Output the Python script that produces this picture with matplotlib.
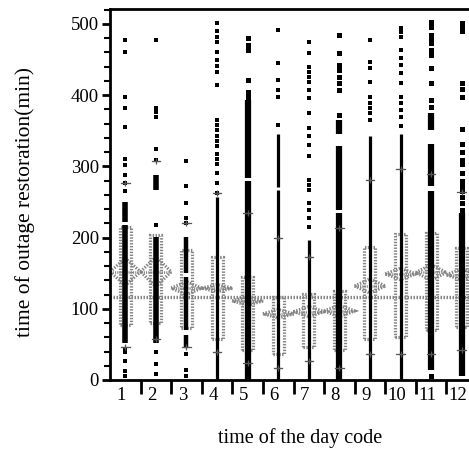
import numpy as np
import matplotlib.pyplot as plt
import matplotlib.transforms as mtransforms
from matplotlib.patches import Polygon, Rectangle

plt.rcParams['font.family'] = ['Liberation Serif', 'DejaVu Serif']

# time-of-day codes
codes = [1, 2, 3, 4, 5, 6, 7, 8, 9, 10, 11, 12]

# isolated observations (min) per code
pts = [
    [477, 461, 397, 382, 355, 311, 302, 288, 276, 265, 44, 40, 26, 12, 6],
    [477, 382, 376, 370, 325, 309, 218, 40, 23, 9],
    [307, 272, 248, 227, 220, 37, 14, 5],
    [501, 490, 482, 475, 461, 449, 441, 433, 414, 365, 358, 351, 342, 335,
     328, 318, 311, 304, 290, 276, 262],
    [480, 470, 463, 421, 405, 398],
    [492, 445, 421, 407, 398, 358],
    [475, 459, 440, 433, 426, 419, 407, 396, 375, 354, 342, 330, 314, 281,
     274, 267, 248, 239, 227, 215],
    [485, 459, 443, 436, 426, 417, 407, 372],
    [477, 447, 438, 419, 398, 389, 382, 375, 365],
    [494, 488, 482, 463, 452, 443, 431, 417, 398, 389, 379, 370, 356],
    [503, 496, 485, 478, 473, 463, 456, 438, 417, 393, 384, 5],
    [501, 495, 490, 417, 408, 398, 353, 332, 320, 309, 304, 290, 279, 272,
     265, 257, 248, 239],
]
# ranges where observations are packed together (min)
runs = [
    [(222, 250), (52, 218)],
    [(267, 288), (52, 201)],
    [(150, 201), (70, 145), (47, 63)],
    [(0, 257)],
    [(284, 393), (0, 279)],
    [(271, 346), (0, 267)],
    [(0, 197)],
    [(346, 365), (239, 328), (0, 234)],
    [(0, 342)],
    [(0, 346)],
    [(351, 375), (272, 332), (14, 265)],
    [(5, 234)],
]

means = [152, 152, 129, 129, 111, 93, 96, 97, 132, 149, 151, 148]
ci_half = [19, 21, 9, 5, 6, 6, 7, 8, 10, 8, 11, 8]
q25 = [77, 80, 73, 58, 42, 37, 47, 42, 57, 60, 70, 75]
q75 = [215, 204, 183, 173, 145, 117, 121, 125, 187, 205, 206, 186]
p10 = [47, 57, 47, 40, 24, 17, 27, 17, 37, 37, 37, 42]
p90 = [277, 308, 221, 262, 234, 199, 173, 213, 281, 297, 289, 264]
grand_mean = 117

col_lw = [4.0, 4.0, 3.2, 2.3, 4.5, 2.3, 2.3, 4.5, 2.3, 2.3, 4.5, 4.5]

gray = '#858585'
stip = (0, (0.45, 0.45))

fig = plt.figure(figsize=(4.69, 4.54), dpi=100)
ax = fig.add_axes([110 / 469, 1 - 380 / 454, 367 / 469, 371 / 454])

ax.axhline(grand_mean, color=gray, lw=2.4, ls=stip, zorder=2)

for i, c in enumerate(codes):
    # quantile box
    ax.add_patch(Rectangle((c - 0.18, q25[i]), 0.36, q75[i] - q25[i],
                           fill=False, ec=gray, lw=2.3, ls=stip, zorder=2))
    # means diamond
    m, h = means[i], ci_half[i]
    ax.add_patch(Polygon([(c - 0.5, m), (c, m + h), (c + 0.5, m), (c, m - h)],
                         closed=True, fill=False, ec=gray, lw=2.3, ls=stip,
                         zorder=2))
    ax.plot([c - 0.5, c + 0.5], [m, m], color=gray, lw=1.8, ls=stip, zorder=2)
    # observations
    for lo, hi in runs[i]:
        ax.plot([c, c], [lo, hi], color='black', lw=col_lw[i],
                solid_capstyle='butt', zorder=3)
    ax.plot([c] * len(pts[i]), pts[i], 's', color='black',
            ms=max(3.0, col_lw[i] * 0.8), mew=0, zorder=3)
    # 10th / 90th percentile marks
    for v in (p10[i], p90[i]):
        ax.plot([c - 0.14, c + 0.14], [v, v], color='#555555', lw=0.9, zorder=4)
        ax.plot([c], [v], marker='+', color='#555555', ms=5, mew=0.9, zorder=4)

ax.set_xlim(0.5, 12.5)
ax.set_ylim(0, 521)

ax.set_xticks(np.arange(1.5, 12.5, 1))
ax.set_xticklabels([])
ax.set_xticks(codes, minor=True)
ax.set_xticklabels([str(c) for c in codes], minor=True, fontsize=13.5)
ax.tick_params(axis='x', which='major', direction='out', length=10, width=2)
ax.tick_params(axis='x', which='minor', length=0, pad=5)
shift = mtransforms.ScaledTranslation(-4 / 100, 0, fig.dpi_scale_trans)
for lab in ax.get_xticklabels(minor=True):
    lab.set_transform(lab.get_transform() + shift)

ax.set_yticks(np.arange(0, 501, 100))
ax.set_yticks(np.arange(0, 521, 20), minor=True)
ax.tick_params(axis='y', which='major', direction='out', length=6, width=2,
               labelsize=13.5, pad=2)
ax.tick_params(axis='y', which='minor', direction='out', length=4, width=1.5)

for s in ('left', 'bottom', 'top'):
    ax.spines[s].set_linewidth(2)
ax.spines['right'].set_visible(False)

fig.text(25 / 469, 1 - 202 / 454, 'time of outage restoration(min)',
         rotation=90, ha='center', va='center', fontsize=15.5)
fig.text(300 / 469, 1 - 438 / 454, 'time of the day code',
         ha='center', va='center', fontsize=14.5)

fig.savefig('out.png', dpi=100)
